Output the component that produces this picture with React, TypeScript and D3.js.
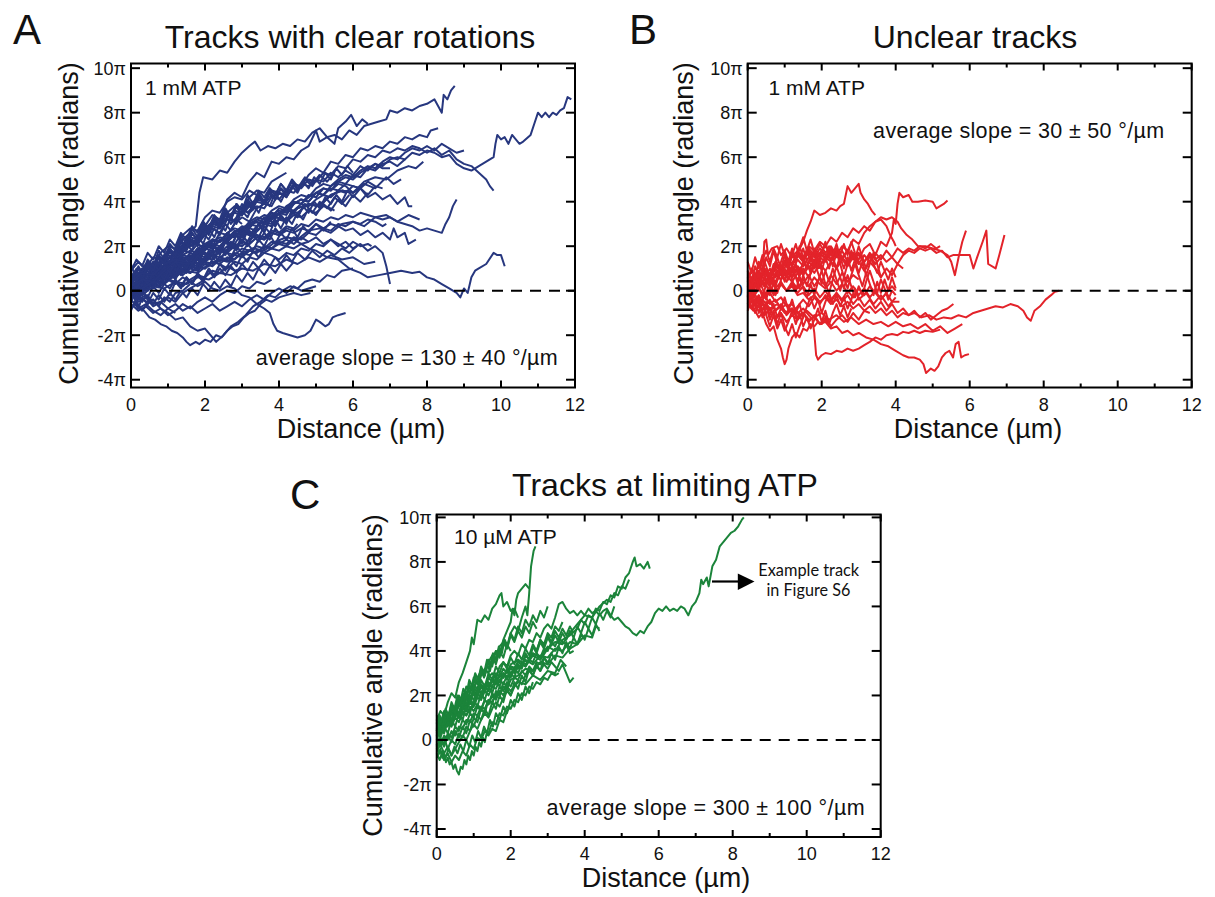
import React from "react";
import * as d3 from "d3";

// ---------- axis values ----------
const xTicks = [0, 2, 4, 6, 8, 10, 12];
const xMinorTicks = [1, 3, 5, 7, 9, 11];
const yTicks = [-4, -2, 0, 2, 4, 6, 8, 10];
const yTickLabels = ["-4π", "-2π", "0", "2π", "4π", "6π", "8π", "10π"];

// ---------- tracks: "distance(µm),angle(π rad)" pairs ----------
const tracksA: string[] = [
  "0,0 .2,.5 .4,.3 .6,.9 .8,.7 1,1.4 1.2,1.8 1.4,2.3 1.6,2.6 1.75,2.9 1.85,4.4 1.95,5.1 2.2,5.0 2.4,5.4 2.6,5.3 2.8,5.8 3.0,6.2 3.2,6.5 3.35,6.7 3.5,6.3 3.7,6.5 3.9,6.4 4.1,6.6 4.3,6.5 4.5,6.8 4.7,6.7 4.9,7.1 5.1,7.3 5.3,6.9 5.5,7.0 5.7,6.8 5.9,7.2 6.1,7.0 6.3,7.4 6.5,7.5 6.7,7.6 6.9,7.7 7.0,8.1 7.2,8.0 7.4,8.2 7.6,8.1 7.8,8.3 8.0,8.4 8.2,8.6 8.3,8.3 8.4,8.0 8.45,8.8 8.55,8.6 8.65,9.0 8.75,9.2",
  "0,0 .2,-.3 .4,.4 .6,.2 .8,1.0 1,1.3 1.2,1.1 1.4,1.9 1.6,2.3 1.8,2.1 2.0,2.9 2.2,3.4 2.4,3.2 2.6,4.1 2.8,4.4 3.0,4.2 3.2,4.9 3.4,5.3 3.6,5.1 3.8,5.8 4.0,5.7 4.2,6.0 4.4,5.9 4.6,6.3 4.8,6.5 5.0,7.2 5.1,6.7 5.3,6.9 5.5,6.6 5.6,7.3 5.8,7.6 5.95,7.9 6.1,7.4 6.25,7.7 6.4,7.5",
  "0,0 .2,.4 .4,.3 .6,.8 .8,.6 1,1.1 1.2,1.0 1.4,1.5 1.6,1.4 1.8,1.9 2.0,2.1 2.2,2.0 2.4,2.6 2.6,2.5 2.8,3.0 3.0,3.3 3.2,3.1 3.4,3.7 3.6,3.9 3.8,3.8 4.0,4.4 4.2,4.3 4.4,4.8 4.6,4.7 4.8,5.2 5.0,5.5 5.2,5.3 5.4,5.8 5.6,5.7 5.8,6.1 6.0,6.0 6.2,6.4 6.4,6.3 6.6,6.5 6.8,6.4 7.0,6.7 7.2,6.6 7.4,6.9 7.6,6.8 7.8,7.0 8.0,6.9 8.1,7.2 8.3,7.3",
  "0,0 .2,.3 .4,.1 .6,.6 .8,.5 1,.9 1.2,.8 1.4,1.2 1.6,1.1 1.8,1.5 2.0,1.7 2.2,1.6 2.4,2.0 2.6,2.2 2.8,2.1 3.0,2.6 3.2,2.5 3.4,2.9 3.6,3.1 3.8,3.0 4.0,3.5 4.2,3.4 4.4,3.9 4.6,4.1 4.8,4.0 5.0,4.4 5.2,4.3 5.4,4.7 5.6,4.9 5.8,4.8 6.0,5.2 6.2,5.1 6.4,5.5 6.6,5.7 6.8,5.6 7.0,5.9 7.2,6.0 7.4,5.9 7.6,6.2 7.8,6.1 8.0,6.3 8.2,6.2 8.4,6.0 8.6,6.1 8.8,5.7 9.0,5.5 9.2,5.4 9.4,5.6 9.6,5.8 9.8,6.0 9.85,6.6 9.9,7.0 10.0,6.8 10.1,6.9 10.2,6.6 10.3,7.0 10.4,6.8 10.5,6.6 10.6,6.7 10.8,7.0 10.9,7.5 11.0,8.0 11.1,7.8 11.2,8.0 11.3,7.8 11.4,8.0 11.5,7.9 11.6,8.1 11.7,8.2 11.8,8.7 11.9,8.6",
  "0,0 .2,.6 .4,.4 .6,1.0 .8,1.3 1,1.2 1.2,1.8 1.4,1.7 1.6,2.2 1.8,2.1 2.0,2.5 2.2,2.8 2.4,2.6 2.6,3.2 2.8,3.1 3.0,3.6 3.2,3.5 3.4,3.8 3.6,3.7 3.8,4.2 4.0,4.4 4.2,4.2 4.4,4.7 4.6,4.6 4.8,5.0 5.0,4.9 5.2,5.3 5.4,5.2 5.6,5.6 5.8,5.5 6.0,5.9 6.2,5.8 6.4,6.1 6.6,6.0 6.8,6.3 7.0,6.2 7.2,6.4 7.4,6.3 7.6,6.5 7.8,6.4 8.0,6.2 8.2,6.4 8.4,6.1 8.6,6.3 8.8,5.9 9.0,5.7 9.2,5.6 9.4,5.3 9.6,5.0 9.7,4.7 9.8,4.5",
  "0,0 .2,.2 .4,.0 .6,.5 .8,.4 1,.8 1.2,.7 1.4,1.0 1.6,1.2 1.8,1.1 2.0,1.5 2.2,1.4 2.4,1.8 2.6,1.7 2.8,2.0 3.0,2.2 3.2,2.1 3.4,2.4 3.6,2.3 3.8,2.6 4.0,2.5 4.2,2.8 4.4,2.7 4.6,3.0 4.8,2.9 5.0,3.2 5.2,3.1 5.4,3.3 5.6,3.2 5.8,3.4 6.0,3.3 6.2,3.5 6.4,3.4 6.6,3.3 6.8,3.2 7.0,3.3 7.2,3.1 7.4,3.0 7.6,2.9 7.8,2.7 8.0,2.8 8.2,2.7 8.4,2.6 8.5,3.0 8.6,3.3 8.7,3.8 8.8,4.1",
  "0,0 .2,.3 .4,.1 .6,.5 .8,.3 1,.7 1.2,.6 1.4,.9 1.6,.8 1.8,1.1 2.0,1.0 2.2,1.3 2.4,1.2 2.6,1.5 2.8,1.4 3.0,1.7 3.2,1.6 3.4,1.8 3.6,1.7 3.8,1.9 4.0,1.8 4.2,2.0 4.4,1.9 4.6,2.1 4.8,1.9 5.0,1.8 5.3,1.5 5.6,1.4 5.9,1.0 6.2,.8 6.4,.6 6.7,.7 7.0,.8 7.3,.9 7.6,.8 7.8,.85 8.0,.6 8.2,.5 8.4,.3 8.6,.1 8.8,-.1 8.9,-.3 9.0,.1 9.1,-.1 9.2,.6 9.3,.9 9.4,1.0 9.6,1.2 9.8,1.7 9.9,1.6 10.0,1.6 10.1,1.1",
  "0,0 .2,.3 .4,.5 .6,.3 .8,.7 1,.5 1.2,.3 1.4,.6 1.6,.4 1.8,.2 2.0,.4 2.2,.1 2.4,.0 2.6,.2 2.8,.1 3.0,-.2 3.2,-.3 3.4,-.6 3.6,-.8 3.75,-1.0 3.85,-1.5 3.95,-1.8 4.1,-1.9 4.3,-2.0 4.5,-2.1 4.7,-2.0 4.85,-1.8 5.0,-1.3 5.1,-1.4 5.25,-1.6 5.35,-1.5 5.45,-1.2 5.6,-1.1 5.8,-1.0",
  "0,0 .1,-.4 .2,-.7 .35,-.9 .5,-1.2 .65,-1.3 .8,-1.5 .95,-1.6 1.1,-1.8 1.25,-1.9 1.4,-2.1 1.5,-2.3 1.6,-2.45 1.75,-2.3 1.85,-2.4 2.0,-2.2 2.15,-2.3 2.3,-2.0 2.45,-2.1 2.6,-1.8 2.75,-1.6 2.9,-1.5 3.05,-1.2 3.2,-1.0 3.35,-.9 3.5,-.6 3.65,-.4 3.8,-.5 4.0,-.3 4.2,-.2 4.4,-.1 4.6,-.2 4.85,-.1",
  "0,0 .2,-.2 .4,-.5 .6,-.4 .8,-.8 1.0,-1.0 1.2,-1.3 1.4,-1.2 1.6,-1.6 1.8,-1.8 2.0,-1.7 2.2,-2.1 2.3,-2.3 2.5,-2.0 2.7,-1.6 2.9,-1.4 3.1,-1.1 3.3,-.7 3.5,-.5 3.7,-.2 3.9,-.3 4.1,0 4.3,.2 4.5,.1 4.7,.4 4.9,.5 5.1,.4 5.3,.7 5.5,.6 5.7,.9 6.0,1.0",
  "0,0 .2,.5 .4,.7 .6,.6 .8,1.1 1,1.0 1.2,1.4 1.4,1.6 1.6,1.5 1.8,1.9 2.0,1.8 2.2,2.2 2.4,2.4 2.6,2.3 2.8,2.7 3.0,2.6 3.2,3.0 3.4,3.2 3.6,3.1 3.8,3.5 4.0,3.4 4.2,3.8 4.4,4.0 4.6,3.9 4.8,4.3 5.0,4.2 5.2,4.6 5.4,4.5 5.6,4.8 5.8,4.7 6.0,4.4 6.2,4.6 6.4,4.2 6.6,4.4 6.8,4.1 7.0,4.3 7.2,3.9 7.4,4.2 7.5,3.8 7.6,3.8",
  "0,0 .2,.4 .4,.2 .6,.7 .8,.6 1,1.0 1.2,.9 1.4,1.3 1.6,1.2 1.8,1.6 2.0,1.5 2.2,1.8 2.4,1.7 2.6,2.0 2.8,1.9 3.0,2.2 3.2,2.1 3.4,2.4 3.6,2.3 3.8,2.6 4.0,2.5 4.2,2.7 4.4,2.6 4.6,2.8 4.8,2.7 5.0,3.0 5.2,2.8 5.4,3.0 5.6,2.9 5.8,2.7 6.0,2.8 6.2,2.5 6.4,2.7 6.6,2.4 6.8,2.6 7.0,2.3 7.1,2.8 7.2,2.4 7.4,2.6 7.5,2.1 7.7,2.3",
  "0,0 .2,.4 .4,.8 .6,.7 .8,1.2 1,1.5 1.2,1.4 1.4,1.9 1.6,2.2 1.8,2.1 2.0,2.6 2.2,2.9 2.4,2.8 2.6,3.3 2.8,3.5 3.0,3.4 3.2,3.8 3.4,4.0 3.6,3.9 3.8,4.3 4.0,4.1 4.2,4.5 4.4,4.4 4.6,4.8 4.8,4.7 5.0,5.0 5.2,4.9 5.4,5.3 5.6,5.1 5.8,5.4 6.0,5.2 6.2,5.6 6.4,5.4 6.6,5.7 6.8,5.5 7.0,5.5",
  "0,0 .2,-.2 .4,.3 .6,.2 .8,.6 1,.9 1.2,.8 1.4,1.3 1.6,1.2 1.8,1.7 2.0,1.9 2.2,1.8 2.4,2.3 2.6,2.2 2.8,2.6 3.0,2.9 3.2,2.8 3.4,3.2 3.6,3.4 3.8,3.3 4.0,3.7 4.2,3.6 4.4,4.0 4.6,3.9 4.8,4.2 5.0,4.4 5.2,4.3 5.4,4.6 5.6,4.5 5.8,4.8 6.0,4.7 6.2,4.6",
  "0,0 .2,.6 .4,.4 .6,.9 .8,.8 1,1.2 1.2,1.1 1.4,1.5 1.6,1.4 1.8,1.8 2.0,2.0 2.2,1.9 2.4,2.3 2.6,2.2 2.8,2.5 3.0,2.4 3.2,2.8 3.4,2.7 3.6,3.0 3.8,2.9 4.0,3.2 4.2,3.1 4.4,3.4 4.6,3.3 4.8,3.6 5.0,3.5 5.2,3.8 5.4,3.7 5.5,3.6",
  "0,0 .2,.2 .4,.5 .6,.4 .8,.7 1,.6 1.2,.9 1.4,.8 1.6,1.1 1.8,1.0 2.0,1.3 2.2,1.2 2.4,1.5 2.6,1.4 2.8,1.7 3.0,1.6 3.2,1.8 3.4,1.7 3.6,2.0 3.8,1.9 4.0,2.1 4.2,2.0 4.4,2.3 4.6,2.1 4.8,2.2",
  "0,0 .2,.5 .4,.9 .6,.8 .8,1.3 1,1.6 1.2,1.5 1.4,2.0 1.6,2.3 1.8,2.2 2.0,2.7 2.2,3.0 2.4,2.9 2.6,3.3 2.8,3.6 3.0,3.5 3.2,3.9 3.4,4.1 3.6,4.0 3.8,4.5 4.0,4.4",
  "0,0 .2,.7 .4,1.2 .6,1.1 .8,1.7 1,2.0 1.2,1.9 1.4,2.5 1.6,2.8 1.8,2.7 2.0,3.3 2.2,3.6 2.4,3.5 2.6,4.0 2.8,4.2 3.0,4.1 3.2,4.5 3.4,4.3 3.5,4.2",
  "0,0 .2,-.3 .4,.1 .6,.3 .8,.2 1,.5 1.2,.4 1.4,.2 1.6,.5 1.8,.7 2.0,.6 2.2,.9 2.4,.8 2.6,1.1 2.8,.9 3.0,1.0",
  "0,0 .2,.3 .4,.2 .6,.5 .8,.4 1,.7 1.2,.6 1.4,.9 1.6,.8 1.8,1.1 2.0,1.0 2.2,1.3 2.4,1.2 2.6,1.0 2.8,1.3 3.0,1.2 3.2,1.5 3.4,1.4 3.6,1.7 3.8,1.6 4.0,1.4 4.2,1.7 4.4,1.6 4.6,1.9 4.8,1.8 5.0,2.1 5.2,2.0 5.4,2.3 5.6,2.1 5.8,1.9 6.0,2.2 6.2,2.0 6.4,2.1 6.5,2.0",
  "0,0 .2,-.4 .4,-.2 .6,-.6 .8,-.5 1,-.8 1.2,-.6 1.4,-.9 1.6,-.7 1.8,-1.0 2.0,-.8 2.2,-.6 2.4,-.9 2.6,-.7 2.8,-.5 3.0,-.7 3.2,-.4 3.4,-.2 3.6,-.4 3.8,-.1 4.0,.1 4.2,-.1 4.4,.2 4.6,.0 4.8,.1 5.0,.2",
  "0,0 .2,.4 .4,.3 .6,.7 .8,.6 1,1.0 1.2,.9 1.4,1.2 1.6,1.1 1.8,1.4 2.0,1.3 2.2,1.6 2.4,1.5 2.6,1.7 2.8,1.6 3.0,1.9 3.2,1.8 3.4,2.0 3.6,1.9 3.8,2.2 4.0,2.1 4.2,2.3 4.4,2.1 4.6,2.4 4.8,2.2 5.0,2.4 5.2,2.1 5.4,2.3 5.6,2.0 5.8,2.2 6.0,1.9 6.2,2.1 6.4,1.8 6.6,2.0 6.8,1.7 6.9,1.1 6.95,.7 7.0,.3",
  "0,0 .2,.5 .4,.4 .6,.9 .8,.8 1,1.1 1.2,1.4 1.4,1.3 1.6,1.7 1.8,1.6 2.0,2.0 2.2,2.3 2.4,2.2 2.6,2.5 2.8,2.4 3.0,2.8 3.2,3.0 3.4,2.9 3.6,3.3 3.8,3.2 4.0,3.5 4.2,3.7 4.4,3.6 4.6,3.9 4.8,3.8 5.0,4.1 5.2,4.3 5.4,4.2 5.6,4.5 5.8,4.4 6.0,4.7 6.2,4.6 6.4,4.9 6.6,4.7 6.8,4.6",
  "0,0 .2,.3 .4,.6 .6,.5 .8,.9 1,.8 1.2,1.1 1.4,1.3 1.6,1.2 1.8,1.5 2.0,1.4 2.2,1.7 2.4,1.9 2.6,1.8 2.8,2.1 3.0,2.0 3.2,2.3 3.4,2.5 3.6,2.4 3.8,2.7 4.0,2.6 4.2,2.9 4.4,2.8 4.5,3.0",
  "0,0 .2,.4 .4,.3 .6,.6 .8,.8 1,.7 1.2,1.0 1.4,.9 1.6,1.2 1.8,1.4 2.0,1.3 2.2,1.6 2.4,1.7 2.5,1.8",
  "0,0 .2,-.5 .4,-.3 .6,-.7 .8,-.5 1,-.3 1.2,-.5 1.4,-.1 1.6,.1 1.8,.3 2.0,.5",
  "0,0 .2,.6 .4,1.0 .6,.9 .8,1.4 1,1.7 1.2,1.6 1.4,2.1 1.6,2.4 1.8,2.3 2.0,2.8 2.2,3.1 2.4,3.0 2.6,3.5 2.8,3.8 3.0,3.7 3.2,4.2 3.4,4.5 3.6,4.4 3.8,4.9 4.0,5.1 4.2,5.3",
  "0,0 .2,.1 .4,.4 .6,.3 .8,.6 1,.5 1.2,.8 1.4,.7 1.6,1.0 1.8,.9 2.0,1.2 2.2,1.1 2.4,1.4 2.6,1.3 2.8,1.6 3.0,1.5 3.2,1.8 3.4,1.7 3.6,2.0 3.8,1.9 4.0,2.2 4.2,2.1 4.4,2.4 4.6,2.3 4.8,2.6 5.0,2.5 5.2,2.8 5.4,2.7 5.6,3.0 5.8,2.9 6.0,3.1 6.2,3.0 6.4,3.2 6.6,3.1 6.8,2.9 6.9,3.0",
  "0,0 .2,.4 .4,.7 .6,.6 .8,1.0 1,1.3 1.2,1.2 1.4,1.6 1.6,1.8 1.8,1.7 2.0,2.1 2.2,2.3 2.4,2.2 2.6,2.6 2.8,2.8 3.0,2.7 3.2,3.1 3.4,3.3 3.6,3.2 3.8,3.6 4.0,3.8 4.2,3.7 4.4,4.1 4.6,4.3 4.8,4.2 5.0,4.6 5.2,4.8 5.4,4.7 5.6,5.0 5.8,5.2 6.0,5.1 6.2,5.4 6.4,5.6 6.6,5.5 6.8,5.8 7.0,6.0 7.2,5.9 7.4,6.2 7.6,6.4 7.8,6.3 8.0,6.5 8.2,6.3 8.4,6.6 8.6,6.4 8.8,6.2 9.0,6.3",
  "0,0 .2,.3 .4,.6 .6,.5 .8,.9 1,1.1 1.2,1.0 1.4,1.4 1.6,1.6 1.8,1.5 2.0,1.9 2.2,2.1 2.4,2.0 2.6,2.4 2.8,2.6 3.0,2.5 3.2,2.9 3.4,3.1 3.6,3.0 3.8,3.4 4.0,3.6 4.2,3.5 4.4,3.9 4.6,4.1 4.8,4.0 5.0,4.4 5.2,4.6 5.4,4.5 5.6,4.9 5.8,5.1 6.0,5.0 6.2,5.3 6.4,5.5 6.6,5.4 6.8,5.7 7.0,5.8 7.2,5.6 7.4,5.9",
  "0,.3 .2,.8 .4,.6 .6,1.1 .8,.9 1.0,1.3 1.2,1.1 1.5,1.2",
  "0,-.4 .2,-.8 .4,-.6 .6,-.9 .8,-1.1 1.0,-.8 1.2,-1.0",
  "0,.5 .2,1.0 .4,.8 .6,1.3 .8,1.2 1,1.6 1.2,1.4 1.4,1.8 1.6,1.7 1.8,2.1 2.0,1.9 2.2,2.3 2.4,2.2 2.6,2.6 2.8,2.4 3.0,2.7 3.2,2.5",
  "0,-.3 .3,.2 .6,.5 .9,1.0 1.2,.9 1.5,1.4 1.8,1.7 2.1,2.0 2.4,2.2 2.7,2.5 3.0,2.8 3.3,3.1 3.6,3.0 3.9,3.4 4.2,3.6 4.5,3.5 4.8,3.9 5.0,3.8 5.2,4.0",
  "0,-.6 .2,-.9 .4,-.7 .6,-1.0 .8,-.8 1.0,-1.1 1.2,-.9 1.4,-.6 1.6,-.8 1.8,-.5 2.0,-.3 2.2,-.5 2.4,-.2 2.6,0 2.8,-.1 3.0,.2 3.2,.1 3.4,.4 3.6,.3 3.8,.5",
  "0,.9 .2,1.3 .4,1.0 .6,1.5 .8,1.4 1.0,1.8 1.2,1.6 1.4,2.1 1.6,2.0 1.8,2.4",
  "0,-.8 .15,-.5 .3,-.9 .45,-.6 .6,-.4 .75,-.7 .9,-.3 1.05,-.5 1.2,-.1 1.4,0 1.6,.3",
  "0,.2 .15,.7 .3,.4 .45,1.1 .6,.8 .75,.9 .9,1.5 1.05,1.2 1.2,1.9 1.35,1.6 1.5,2.4 1.65,2.0 1.8,2.3 1.95,2.9 2.1,2.5 2.25,3.1 2.4,2.8 2.55,3.4 2.7,3.0 2.85,3.3 3.0,3.9 3.15,3.5 3.3,3.8 3.45,4.3 3.6,3.9 3.75,4.5 3.9,4.1 4.05,4.6 4.2,4.4 4.35,4.9 4.5,4.5 4.7,5.0 4.9,4.7 5.1,5.2",
  "0,-.5 .15,.1 .3,-.2 .45,.4 .6,.2 .75,.8 .9,.3 1.05,.9 1.2,.7 1.35,1.2 1.5,.9 1.65,1.5 1.8,1.1 1.95,1.7 2.1,1.4 2.25,2.0 2.4,1.6 2.55,2.2 2.7,1.9 2.85,2.5 3.0,2.1 3.15,2.7 3.3,2.4 3.45,3.0 3.6,2.6 3.75,3.2 3.9,2.9 4.05,3.4 4.2,3.0 4.35,3.6 4.5,3.3 4.7,3.9 4.9,3.5 5.1,4.0 5.3,3.7 5.5,4.2 5.7,3.9 5.9,4.3",
  "0,.8 .15,.4 .3,1.0 .45,.7 .6,1.3 .75,.9 .9,1.6 1.05,1.2 1.2,1.8 1.35,1.5 1.5,2.1 1.65,1.8 1.8,2.5 1.95,2.1 2.1,2.8 2.25,2.4 2.4,3.0 2.55,2.7 2.7,3.3 2.85,3.0 3.0,3.6 3.15,3.3 3.3,3.9 3.45,3.5 3.6,4.1 3.75,3.8 3.9,4.4 4.05,4.0 4.2,4.5",
  "0,.1 .15,-.3 .3,.3 .45,0 .6,.5 .75,.2 .9,.7 1.05,.5 1.2,1.0 1.35,.7 1.5,1.2 1.65,1.0 1.8,1.5 1.95,1.2 2.1,1.7 2.25,1.4 2.4,2.0 2.55,1.7 2.7,2.2 2.85,1.9 3.0,2.5 3.15,2.2 3.3,2.7 3.45,2.4 3.6,2.9 3.75,2.6 3.9,3.2 4.05,2.8 4.2,3.3 4.35,3.0 4.5,3.5 4.65,3.2 4.8,3.7 5.0,3.4 5.2,3.9 5.4,3.6 5.6,4.1 5.8,3.8 6.0,4.3 6.2,4.0 6.4,4.4",
  "0,.4 .15,.9 .3,.6 .45,1.3 .6,1.0 .75,1.6 .9,1.3 1.05,1.9 1.2,1.5 1.35,2.2 1.5,1.9 1.65,2.6 1.8,2.2 1.95,2.9 2.1,2.6 2.25,3.2 2.4,2.9 2.55,3.5 2.7,3.2 2.85,3.8 3.0,3.4 3.15,4.0 3.3,3.7 3.45,4.2 3.6,3.9 3.75,4.4 3.9,4.1 4.05,4.6 4.2,4.2 4.35,4.7 4.5,4.4 4.65,4.9 4.8,4.6 4.95,5.1 5.1,4.8 5.25,5.3 5.4,5.0 5.55,5.5 5.7,5.2 5.85,5.6 6.0,5.3",
  "0,-.2 .15,.2 .3,-.1 .45,.3 .6,.1 .75,.6 .9,.3 1.05,.8 1.2,.5 1.35,1.0 1.5,.8 1.65,1.2 1.8,.9 1.95,1.4 2.1,1.1 2.25,1.6 2.4,1.3 2.55,1.8 2.7,1.5 2.85,2.0 3.0,1.7 3.15,2.1 3.3,1.8 3.45,2.3 3.6,2.0 3.75,2.5 3.9,2.1 4.05,2.6 4.2,2.3 4.35,2.8 4.5,2.4 4.65,2.9 4.8,2.6 5.0,3.0 5.2,2.7 5.4,3.1",
  "0,1.2 .1,.7 .2,1.1 .3,.8 .45,1.3 .6,1.0 .75,1.5 .9,1.3 1.05,1.8 1.2,1.5 1.35,2.0 1.5,1.8 1.65,2.3 1.8,2.0 1.95,2.6 2.1,2.3 2.25,2.8 2.4,2.5 2.55,3.0 2.7,2.7 2.85,3.2 3.0,3.0",
  "0,-.9 .1,-.5 .2,-.8 .3,-.3 .45,-.6 .6,-.1 .75,-.4 .9,.1 1.05,-.2 1.2,.4 1.35,.1 1.5,.6 1.65,.3 1.8,.8 1.95,.5 2.1,1.0 2.25,.7 2.4,1.2 2.55,.9 2.7,1.4 2.85,1.1 3.0,1.6 3.15,1.3 3.3,1.8 3.45,1.5 3.6,1.9",
  "0,.6 .15,1.0 .3,.8 .45,1.4 .6,1.1 .75,1.8 .9,1.4 1.05,2.1 1.2,1.8 1.35,2.5 1.5,2.1 1.65,2.8 1.8,2.4 1.95,3.1 2.1,2.7 2.25,3.3 2.4,2.9 2.55,3.6 2.7,3.2 2.85,3.8 3.0,3.4 3.15,3.9 3.3,3.6",
  "0,0 .15,-.4 .3,.0 .45,-.3 .6,.2 .75,-.1 .9,.3 1.05,.1 1.2,.5 1.35,.2 1.5,.6 1.65,.3 1.8,.7 1.95,.4 2.1,.9 2.25,.6 2.4,1.0 2.55,.7 2.7,1.1 2.85,.8 3.0,1.2 3.15,.9 3.3,1.3 3.45,1.0 3.6,1.4 3.75,1.1 3.9,1.5 4.05,1.2 4.2,1.6 4.35,1.3 4.5,1.7 4.7,1.4 4.9,1.8 5.1,1.5 5.3,1.8 5.5,1.6 5.7,1.9 5.9,1.7 6.1,2.0",
  "0,.3 .15,.8 .3,.5 .45,1.2 .6,.9 .75,1.5 .9,1.2 1.05,1.9 1.2,1.6 1.35,2.3 1.5,1.9 1.65,2.6 1.8,2.3 1.95,3.0 2.1,2.6 2.25,3.3 2.4,3.0 2.55,3.7 2.7,3.3 2.85,3.9 3.0,3.6 3.15,4.3 3.3,3.9 3.45,4.5 3.6,4.2 3.75,4.6 3.9,4.3 4.05,4.8 4.2,4.5 4.35,4.9 4.5,4.6 4.7,5.1 4.9,4.8 5.1,5.2 5.3,4.9 5.5,5.3",
  "0,-.1 .15,.3 .3,.0 .45,.5 .6,.3 .75,.8 .9,.5 1.05,1.0 1.2,.7 1.35,1.3 1.5,1.0 1.65,1.5 1.8,1.2 1.95,1.8 2.1,1.5 2.25,2.0 2.4,1.7 2.55,2.3 2.7,2.0 2.85,2.5 3.0,2.2 3.15,2.8 3.3,2.5 3.45,3.0 3.6,2.7 3.75,3.2 3.9,2.9 4.05,3.4 4.2,3.1 4.35,3.6 4.5,3.3 4.65,3.8 4.8,3.5 4.95,4.0 5.1,3.7 5.25,4.2 5.4,3.9 5.55,4.3 5.7,4.0 5.85,4.5 6.0,4.2 6.2,4.6 6.4,4.3 6.6,4.7",
  "0,.5 .15,.1 .3,.6 .45,.3 .6,.8 .75,.6 .9,1.1 1.05,.8 1.2,1.3 1.35,1.0 1.5,1.5 1.65,1.2 1.8,1.6 1.95,1.3 2.1,1.8 2.25,1.5 2.4,1.9 2.55,1.6 2.7,2.1 2.85,1.8 3.0,2.3 3.15,2.0 3.3,2.5 3.45,2.2 3.6,2.6 3.75,2.3 3.9,2.8 4.05,2.5 4.2,2.9",
  "0,-.4 .15,-.1 .3,-.5 .45,-.2 .6,-.6 .75,-.2 .9,-.5 1.05,-.1 1.2,-.4 1.35,0 1.5,-.3 1.65,.1 1.8,-.2 1.95,.3 2.1,0 2.25,.4 2.4,.1 2.55,.5 2.7,.2 2.85,.7 3.0,.4 3.15,.8 3.3,.5 3.45,1.0 3.6,.7 3.75,1.1 3.9,.8 4.05,1.2 4.2,.9 4.4,1.3",
  "0,.9 .15,1.4 .3,1.1 .45,1.7 .6,1.4 .75,2.0 .9,1.7 1.05,2.3 1.2,2.0 1.35,2.6 1.5,2.3 1.65,2.9 1.8,2.6 1.95,3.1 2.1,2.8 2.25,3.4 2.4,3.1 2.55,3.6 2.7,3.3 2.85,3.9 3.0,3.6 3.15,4.1 3.3,3.8 3.45,4.4 3.6,4.0 3.75,4.6 3.9,4.3 4.05,4.8 4.2,4.5 4.35,5.0 4.5,4.7",
  "0,.2 .3,.5 .6,.4 .9,.9 1.2,1.3 1.5,1.2 1.8,1.7 2.1,2.0 2.4,1.9 2.7,2.4 3.0,2.6 3.3,2.5 3.6,3.0 3.9,3.3 4.2,3.2 4.5,3.7 4.8,3.9 5.1,3.8 5.4,4.3 5.7,4.5 6.0,4.4 6.3,4.8 6.6,4.6 6.9,5.1 7.1,4.8 7.3,5.0",
  "0,-.2 .3,.1 .6,.4 .9,.3 1.2,.7 1.5,.9 1.8,.8 2.1,1.2 2.4,1.4 2.7,1.3 3.0,1.7 3.3,1.9 3.6,1.8 3.9,2.2 4.2,2.4 4.5,2.3 4.8,2.7 5.1,2.8 5.4,2.6 5.7,3.0 6.0,3.1 6.3,2.9 6.6,3.3 6.9,3.4 7.2,3.1 7.5,3.4 7.8,3.2",
  "0,.1 .3,-.2 .6,.2 .9,.1 1.2,.4 1.5,.3 1.8,.6 2.1,.5 2.4,.8 2.7,.7 3.0,1.0 3.3,.9 3.6,1.2 3.9,1.1 4.2,1.4 4.5,1.2 4.8,1.5 5.1,1.3 5.4,1.6 5.7,1.4 6.0,1.5 6.3,1.2 6.6,1.3",
  "0,.4 .3,.8 .6,.7 .9,1.2 1.2,1.4 1.5,1.3 1.8,1.8 2.1,2.0 2.4,1.9 2.7,2.4 3.0,2.6 3.3,2.5 3.6,3.0 3.9,3.3 4.2,3.2 4.5,3.7 4.8,3.9 5.1,3.8 5.4,4.3 5.7,4.5 6.0,4.4 6.3,4.9 6.6,5.1 6.9,5.0 7.2,5.4 7.5,5.6 7.7,5.5 7.9,5.8",
];

const tracksB: string[] = [
  "0,.2 .15,.6 .3,.3 .45,.9 .6,.5 .75,1.0 .9,.7 1.05,1.2 1.2,.9 1.35,1.4 1.5,1.1 1.65,1.5 1.8,1.2 1.95,1.7 2.1,1.4 2.25,1.9 2.4,1.5 2.55,1.8 2.7,1.3 2.85,1.7 3.0,1.4 3.15,1.9 3.3,2.1 3.45,1.6 3.6,2.2 3.75,2.0 3.9,2.6 3.95,3.2 4.0,3.0 4.05,3.9 4.1,4.4 4.2,4.2 4.35,4.3 4.45,4.0 4.6,4.0 4.8,4.05 5.0,4.0 5.1,3.7 5.2,3.8 5.3,3.9 5.4,4.05",
  "0,.4 .15,.1 .3,.6 .45,.3 .6,.8 .75,1.1 .9,.9 1.05,1.4 1.2,1.2 1.35,1.7 1.5,2.2 1.6,2.7 1.7,3.1 1.8,3.6 1.95,3.4 2.1,3.5 2.25,3.7 2.4,3.6 2.5,3.8 2.6,3.9 2.7,4.7 2.8,4.4 2.9,4.6 3.0,4.8 3.05,4.4 3.15,4.1 3.25,3.9 3.35,3.6 3.45,3.4",
  "0,-.2 .15,.3 .3,.1 .45,.5 .6,.2 .75,.7 .9,.5 1.05,.9 1.2,.6 1.35,1.1 1.5,.8 1.65,1.3 1.8,1.0 1.95,1.5 2.1,1.3 2.25,1.8 2.4,1.6 2.55,2.0 2.7,1.8 2.85,2.3 3.0,2.1 3.15,2.6 3.3,2.9 3.45,3.1 3.6,3.3 3.75,3.2 3.9,3.3 4.05,3.1 4.15,2.8 4.3,2.5 4.45,2.3 4.6,2.0 4.8,2.0 5.0,1.9 5.2,1.8 5.4,1.6 5.5,1.3 5.6,.7 5.7,1.5 5.8,2.2 5.9,2.7",
  "0,.3 .15,.0 .3,.5 .45,.2 .6,.7 .75,.4 .9,.9 1.05,.6 1.2,1.1 1.35,.8 1.5,1.2 1.65,1.0 1.8,1.4 1.95,1.1 2.1,1.5 2.25,1.3 2.4,1.7 2.55,1.4 2.7,1.8 2.85,1.5 3.0,1.6 3.15,1.3 3.3,1.7 3.45,1.4 3.6,1.6 3.75,1.3 3.9,1.5 4.05,1.2 4.2,1.6 4.35,1.8 4.5,1.7 4.65,1.9 4.8,1.8 4.95,1.9 5.1,1.7 5.25,1.8 5.4,1.5 5.55,1.6 5.8,1.6 6.0,1.6 6.1,1.0 6.2,1.5 6.35,2.2 6.45,2.7 6.5,1.2 6.7,1.0 6.8,1.6 6.94,2.5",
  "0,-.2 .15,-.5 .3,-.3 .45,-.7 .6,-.5 .75,-.9 .9,-.7 1.05,-1.0 1.2,-.8 1.35,-1.2 1.5,-1.0 1.65,-1.3 1.8,-1.2 1.95,-1.5 2.1,-1.4 2.25,-1.7 2.4,-1.6 2.55,-1.9 2.7,-1.8 2.85,-2.0 3.0,-1.9 3.2,-2.1 3.4,-2.2 3.6,-2.4 3.8,-2.5 4.0,-2.7 4.2,-2.9 4.35,-3.0 4.5,-3.0 4.65,-3.1 4.75,-3.3 4.82,-3.7 4.95,-3.5 5.05,-3.6 5.15,-3.4 5.25,-3.0 5.35,-2.8 5.45,-2.7 5.55,-3.0 5.62,-2.4 5.7,-2.3 5.77,-3.0 5.87,-2.9 5.98,-2.85",
  "0,-.3 .1,-.7 .2,-.9 .3,-1.2 .4,-1.0 .5,-1.5 .6,-1.8 .7,-1.6 .8,-2.2 .9,-2.6 .95,-3.0 1.0,-3.3 1.05,-3.1 1.1,-2.6 1.2,-2.1 1.3,-1.9 1.4,-2.1 1.5,-1.7 1.6,-1.8 1.7,-1.5 1.8,-1.6 1.9,-1.4 2.0,-1.5 2.1,-1.3 2.2,-1.5",
  "0,.1 .15,-.2 .3,.1 .45,-.3 .6,-.1 .75,-.5 .9,-.3 1.05,-.7 1.2,-.6 1.35,-1.0 1.5,-.8 1.65,-1.1 1.75,-1.3 1.8,-1.9 1.85,-2.9 1.9,-3.1 2.0,-2.9 2.1,-2.8 2.25,-2.85 2.4,-2.7 2.55,-2.75 2.7,-2.6 2.85,-2.7 3.0,-2.6 3.15,-2.45 3.3,-2.3 3.45,-2.1 3.6,-2.2 3.75,-2.0 3.9,-1.95 4.05,-2.0 4.2,-1.85 4.35,-1.9 4.5,-1.8 4.65,-1.9 4.8,-1.8 5.0,-1.85 5.2,-1.75",
  "0,0 .15,-.3 .3,.1 .45,-.2 .6,.2 .75,-.1 .9,.3 1.05,0 1.2,.2 1.35,-.2 1.5,-.1 1.65,-.4 1.8,-.2 1.95,-.5 2.1,-.3 2.25,-.6 2.4,-.4 2.55,-.7 2.7,-.5 2.85,-.8 3.0,-.6 3.15,-.9 3.3,-.7 3.45,-1.0 3.6,-.8 3.75,-1.1 3.9,-.9 4.05,-1.2 4.2,-1.0 4.35,-1.1 4.5,-1.0 4.7,-1.2 4.9,-1.1 5.1,-1.3 5.3,-1.2 5.5,-1.25 5.7,-1.1 5.9,-1.2 6.1,-1.0 6.3,-.9 6.5,-.8 6.7,-.7 6.9,-.75 7.1,-.6 7.3,-.7 7.45,-.9 7.55,-1.2 7.65,-1.35 7.75,-.9 7.9,-.7 8.05,-.4 8.2,-.2 8.3,-.05 8.42,0",
  "0,.5 .15,.2 .3,.6 .45,.3 .6,.5 .75,.1 .9,.4 1.05,0 1.2,.3 1.35,-.1 1.5,.2 1.65,-.2 1.8,.1 1.95,-.3 2.1,0 2.25,-.4 2.4,-.1 2.55,-.5 2.7,-.2 2.85,-.6 3.0,-.3 3.15,-.7 3.3,-.4 3.45,-.8 3.6,-.5 3.75,-.9 3.9,-.6 4.05,-1.0 4.2,-.8 4.35,-1.1 4.5,-.9 4.65,-1.2 4.8,-1.0 4.95,-1.3 5.1,-1.1 5.25,-.9 5.4,-.8 5.56,-.6",
  "0,-.5 .15,-.2 .3,-.6 .45,-.3 .6,.1 .75,-.2 .9,.3 1.05,0 1.2,.4 1.35,.1 1.5,.5 1.65,.2 1.8,.6 1.95,.3 2.1,.1 2.25,.4 2.4,0 2.55,.3 2.7,-.1 2.85,.2 3.0,-.2 3.15,.1 3.3,-.3 3.45,0 3.6,-.4 3.75,-.1 3.9,.2 4.0,0",
  "0,.6 .15,.9 .3,.5 .45,1.0 .6,.7 .75,1.2 .9,.9 1.05,1.4 1.2,1.1 1.35,1.6 1.5,1.3 1.65,1.8 1.8,1.5 1.95,1.9 2.1,1.6 2.25,1.4 2.4,1.8 2.55,1.5 2.7,1.2 2.85,1.6 3.0,1.3 3.15,.9 3.3,1.3 3.45,1.0 3.6,.6 3.75,1.0 3.9,.7 4.05,1.2 4.2,1.0",
  "0,-.1 .15,.4 .3,.2 .4,.7 .45,2.2 .5,2.3 .55,1.6 .65,1.9 .8,2.0 .9,1.6 1.05,1.9 1.2,1.5 1.35,1.8 1.5,1.4 1.65,1.7 1.8,1.3 1.95,1.7 2.1,2.0 2.25,1.6 2.4,1.9 2.55,1.5 2.7,1.8 2.85,1.4 3.0,1.7 3.15,1.3 3.3,1.6 3.45,1.2 3.6,1.5",
  "0,.2 .15,-.1 .3,-.4 .45,-.2 .6,-.6 .75,-.4 .9,-.8 1.05,-.6 1.2,-1.0 1.35,-.7 1.5,-.4 1.65,-.7 1.8,-.3 1.95,-.6 2.1,-.2 2.25,-.5 2.4,-.1 2.55,-.4 2.7,0 2.85,-.3 3.0,.1 3.15,-.2 3.3,.2 3.45,-.1 3.6,-.4 3.75,-.1 3.9,-.5 4.1,-.5",
  "0,.8 .15,.4 .3,.9 .45,.5 .6,1.0 .75,.6 .9,1.1 1.05,.7 1.2,.4 1.35,.8 1.5,.3 1.65,.7 1.8,.2 1.95,.6 2.1,.2 2.25,.7 2.4,.3 2.55,.8 2.7,.4 2.85,.7 3.0,.5",
  "0,.3 .15,.7 .3,.4 .45,1.0 .6,.7 .75,1.3 .9,1.0 1.05,1.5 1.2,1.2 1.35,1.7 1.5,1.4 1.65,1.9 1.8,1.6 1.95,2.1 2.1,1.7 2.25,2.0 2.4,1.6 2.5,1.8",
  "0,-.1 .15,-.5 .3,-.2 .45,-.7 .6,-.4 .75,-.9 .9,-.6 1.05,-1.1 1.2,-.8 1.35,-1.3 1.5,-1.0 1.65,-1.4 1.8,-1.1 1.95,-1.5 2.1,-1.2 2.25,-1.6 2.4,-1.3 2.55,-1.1 2.7,-1.4 2.85,-1.0 3.0,-1.3 3.15,-.9 3.3,-1.0",
  "0,0 .15,.4 .3,.1 .45,.6 .6,.3 .75,.8 .9,.5 1.05,.9 1.2,.6 1.35,1.0 1.5,.7 1.65,1.1 1.8,.8 1.95,1.2 2.1,.9 2.25,1.3 2.4,1.0 2.55,1.4 2.7,1.1 2.85,1.5 3.0,1.2 3.15,1.6 3.3,1.3 3.45,1.7 3.6,1.4 3.75,1.8 3.9,1.5 4.05,1.9 4.2,1.7 4.35,1.9 4.5,1.8 4.65,2.0 4.8,1.9 4.95,2.1 5.1,1.9 5.2,2.0",
  "0,.1 .15,.5 .3,.3 .45,.8 .6,.6 .75,1.1 .9,.9 1.05,1.4 1.2,1.2 1.35,1.7 1.5,1.5 1.65,2.0 1.8,1.8 1.95,2.2 2.1,2.0 2.25,2.4 2.4,2.2 2.55,2.6 2.7,2.4 2.85,2.8 3.0,2.6 3.15,2.9 3.3,2.7 3.45,3.1 3.6,3.2 3.75,2.9 3.85,2.5 3.95,2.2 4.0,2.0",
  "0,-.6 .15,-.9 .3,-.6 .45,-1.1 .6,-.8 .75,-1.3 .9,-1.0 1.05,-1.4 1.2,-1.1 1.35,-1.3 1.5,-1.0",
  "0,.5 .15,.1 .3,.6 .45,.2 .6,.7 .75,.3 .9,.8 1.05,.4 1.2,.9 1.35,.5 1.5,1.0 1.65,.6 1.8,1.1 2.0,1.0",
  "0,-.2 .2,-.6 .4,-.4 .6,-.8 .8,-.6 1.0,-1.0 1.2,-.8 1.4,-1.1 1.6,-.9 1.8,-1.2 2.0,-1.0 2.2,-1.3 2.4,-1.1 2.6,-1.4 2.8,-1.2 3.0,-1.5 3.2,-1.3 3.4,-1.5 3.6,-1.4 3.8,-1.6 4.0,-1.4 4.2,-1.6 4.4,-1.5 4.6,-1.7 4.8,-1.5 5.0,-1.8 5.2,-1.6 5.4,-1.9 5.6,-1.7 5.8,-1.5",
  "0,.4 .1,1.0 .2,.6 .3,1.3 .4,.8 .5,1.5 .6,1.1 .7,1.8 .8,1.2 .9,.7 1.0,1.3 1.1,.9 1.2,1.6 1.3,2.1 1.4,1.5 1.5,1.9 1.6,1.3 1.7,.8 1.8,1.4 1.9,1.0 2.0,1.7 2.1,2.2 2.2,1.6 2.3,1.1 2.4,1.7 2.5,1.2 2.6,.6 2.7,1.2 2.8,1.8 2.9,1.4 3.0,2.0 3.1,1.5 3.2,1.0 3.3,1.6 3.4,1.2 3.5,.8 3.6,1.3 3.7,.9 3.8,.5 3.9,1.0 4.0,.6",
  "0,-.3 .1,.3 .2,-.1 .3,.5 .4,.1 .5,-.4 .6,.2 .7,-.2 .8,.5 .9,.9 1.0,.4 1.1,1.0 1.2,.5 1.3,0 1.4,.6 1.5,.1 1.6,-.3 1.7,.3 1.8,-.2 1.9,.4 2.0,.9 2.1,.3 2.2,-.1 2.3,.5 2.4,1.1 2.5,.6 2.6,.1 2.7,.7 2.8,.2 2.9,-.3 3.0,.2 3.1,-.2 3.2,.4 3.3,.9 3.4,.4 3.5,-.1 3.6,.5 3.7,.1 3.8,-.4 3.9,0 4.0,-.2",
  "0,.9 .1,.4 .2,1.1 .3,.7 .4,1.4 .5,1.8 .6,1.3 .7,1.9 .8,1.5 .9,2.1 1.0,1.6 1.1,1.1 1.2,1.7 1.3,1.3 1.4,1.9 1.5,2.4 1.6,1.8 1.7,2.3 1.8,1.7 1.9,1.2 2.0,1.8 2.1,1.4 2.2,2.0 2.3,1.5 2.4,1.0 2.5,1.6 2.6,2.1 2.7,1.6 2.8,2.2 2.9,1.7 3.0,1.3",
  "0,-.6 .1,-.1 .2,-.7 .3,-.3 .4,-.9 .5,-.5 .6,-1.1 .7,-.6 .8,-1.2 .9,-.8 1.0,-.3 1.1,-.9 1.2,-.4 1.3,-1.0 1.4,-.6 1.5,-1.2 1.6,-.7 1.7,-.3 1.8,-.8 1.9,-.4 2.0,-1.0 2.1,-.5 2.2,-.1 2.3,-.6 2.4,-.2 2.5,-.7 2.6,-.3 2.7,-.8 2.8,-.4 2.9,.1 3.0,-.4 3.2,-.1 3.4,-.6 3.6,-.2 3.8,-.7 4.0,-.3",
  "0,.2 .1,-.3 .2,.3 .3,.8 .4,.3 .5,.9 .6,.4 .7,1.0 .8,1.5 .9,1.0 1.0,1.6 1.1,1.1 1.2,.6 1.3,1.2 1.4,.7 1.5,1.3 1.6,1.8 1.7,1.3 1.8,1.9 1.9,1.4 2.0,.9 2.1,1.5 2.2,1.0 2.3,1.6 2.4,2.1 2.5,1.5 2.6,1.0 2.7,1.5 2.8,.9 2.9,1.4 3.0,.8 3.1,1.3 3.2,.7 3.3,1.2 3.4,1.7 3.5,1.2 3.6,.6",
  "0,-.2 .1,-.8 .2,-.4 .3,-1.0 .4,-.5 .5,-1.1 .6,-1.6 .7,-1.1 .8,-1.7 .9,-1.3 1.0,-1.8 1.1,-1.4 1.2,-.9 1.3,-1.5 1.4,-1.0 1.5,-1.6 1.6,-1.2 1.7,-1.7 1.8,-1.3 1.9,-.8 2.0,-1.4 2.1,-.9 2.2,-1.5 2.3,-1.0 2.4,-.6 2.5,-1.1 2.6,-.7 2.7,-1.2 2.8,-.8",
  "0,.6 .1,.1 .2,.7 .3,.2 .4,-.3 .5,.3 .6,-.2 .7,.4 .8,-.1 .9,.5 1.0,1.0 1.1,.5 1.2,1.1 1.3,.6 1.4,.1 1.5,.7 1.6,.2 1.7,.8 1.8,1.3 1.9,.8 2.0,.3 2.1,.9 2.2,.4 2.3,1.0 2.4,.5 2.5,0 2.6,.6 2.7,.1 2.8,.7 2.9,1.2 3.0,.7 3.1,.2 3.2,.8 3.3,.3 3.4,-.2 3.5,.4 3.6,-.1 3.7,.5 3.8,.0 3.9,.6 4.0,.1",
  "0,1.3 .1,.8 .2,1.5 .3,1.0 .4,1.6 .5,1.1 .6,.6 .7,1.2 .8,.7 .9,1.3 1.0,1.8 1.1,1.3 1.2,1.9 1.3,1.4 1.4,2.0 1.5,1.5 1.6,1.0 1.7,1.6 1.8,1.1 1.9,1.7 2.0,1.2",
  "0,-.9 .1,-.4 .2,-1.0 .3,-.6 .4,-1.2 .5,-.7 .6,-1.3 .7,-.9 .8,-1.5 .9,-1.0 1.0,-1.6 1.1,-2.0 1.2,-1.5 1.3,-2.1 1.4,-1.6 1.5,-1.2",
];

const tracksC: string[] = [
  "0,.3 .1,.7 .2,.4 .3,1.0 .4,.8 .5,1.3 .6,1.1 .7,1.6 .8,1.4 .9,1.9 1.0,2.2 1.1,2.0 1.2,2.5 1.3,2.3 1.4,2.8 1.5,3.0 1.6,2.8 1.7,3.3 1.8,3.5 1.9,3.3 2.0,3.8 2.1,4.0 2.2,3.8 2.3,4.3 2.4,4.1 2.5,4.5 2.6,4.4 2.7,4.8 2.8,4.6 2.9,5.0 3.0,5.2 3.1,5.0 3.2,5.5 3.3,6.1 3.4,6.2 3.5,5.9 3.6,5.7 3.7,5.8 3.8,5.6 3.9,5.8 4.0,5.6 4.1,5.9 4.2,5.7 4.3,5.8 4.4,5.6 4.5,5.8 4.6,5.9 4.7,5.6 4.8,5.4 4.9,5.5 5.0,5.3 5.1,5.1 5.2,5.0 5.3,4.8 5.4,4.7 5.5,4.9 5.6,4.8 5.7,5.1 5.8,5.3 5.9,5.7 6.0,5.9 6.1,5.8 6.2,6.0 6.3,5.8 6.4,5.9 6.5,5.8 6.6,6.0 6.7,5.9 6.8,5.6 6.9,6.0 7.0,6.2 7.1,6.6 7.15,7.2 7.2,7.0 7.3,7.3 7.35,6.9 7.45,7.8 7.55,8.1 7.65,8.7 7.75,8.9 7.85,9.1 7.95,9.3 8.05,9.4 8.15,9.6 8.25,9.9 8.3,10.0",
  "0,.5 .1,.2 .2,.8 .3,.6 .4,1.2 .5,1.0 .6,1.6 .7,1.4 .8,2.0 .9,2.4 1.0,2.2 1.1,2.8 1.2,3.1 1.3,2.9 1.4,3.5 1.5,3.8 1.6,3.6 1.7,4.2 1.8,4.4 1.9,4.2 2.0,4.8 2.1,5.1 2.2,4.9 2.3,5.5 2.4,6.0 2.45,5.6 2.5,6.6 2.55,7.8 2.58,8.1 2.62,8.5 2.67,8.7",
  "0,.8 .1,.4 .2,1.0 .3,.7 .4,1.3 .5,1.1 .6,1.6 .7,1.4 .8,1.9 .9,1.7 1.0,2.2 1.1,2.0 1.2,2.5 1.3,2.3 1.4,2.8 1.5,2.6 1.6,3.0 1.7,2.8 1.8,3.2 1.9,3.0 2.0,3.4 2.2,3.6 2.4,3.4 2.6,3.9 2.8,3.7 3.0,4.2 3.2,4.0 3.4,4.5 3.6,4.7 3.8,5.0 3.9,5.4 4.0,5.2 4.1,5.6 4.2,5.5 4.3,5.9 4.4,5.8 4.5,6.2 4.6,6.1 4.7,6.5 4.8,6.4 4.9,6.9 5.0,6.8 5.1,7.3 5.2,7.5 5.3,8.0 5.35,8.2 5.4,7.8 5.5,7.9 5.6,7.7 5.7,8.0 5.76,7.7",
  "0,0 .1,.5 .2,.3 .3,.9 .4,.7 .5,1.2 .6,1.0 .7,1.5 .8,1.3 .9,1.8 1.0,1.6 1.1,2.1 1.2,1.9 1.3,2.4 1.4,2.2 1.5,2.7 1.6,2.5 1.7,3.0 1.8,2.8 1.9,3.2 2.0,3.0 2.2,3.5 2.4,3.3 2.6,3.8 2.8,3.6 3.0,4.1 3.2,4.4 3.4,4.3 3.6,4.8 3.8,5.2 4.0,5.6 4.2,5.5 4.4,6.0 4.6,6.3 4.7,6.2 4.8,6.6 4.9,6.5 5.0,6.9 5.1,6.8 5.2,7.2",
  "0,.2 .1,.6 .2,.4 .3,.9 .4,.7 .5,1.2 .6,1.0 .7,1.4 .8,1.3 .9,1.7 1.0,1.5 1.1,1.9 1.2,1.8 1.3,2.2 1.4,2.0 1.5,2.4 1.6,2.3 1.7,2.7 1.8,2.5 1.9,2.9 2.0,2.8 2.1,3.2 2.2,3.0 2.3,3.4 2.4,3.3 2.5,3.6 2.6,3.5 2.7,3.9 2.8,3.7 2.9,4.1 3.0,4.0 3.1,4.4 3.2,4.2 3.3,4.6 3.4,4.4 3.5,4.3 3.6,3.9 3.7,4.0",
  "0,-.5 .1,-.2 .2,-.6 .3,-.3 .4,-.7 .5,-.4 .6,-.1 .7,.2 .8,.0 .9,.4 1.0,.7 1.1,.5 1.2,.9 1.3,1.2 1.4,1.0 1.5,1.4 1.6,1.7 1.7,1.5 1.8,1.9 1.9,2.2 2.0,2.0 2.1,2.4 2.2,2.7 2.3,2.5 2.4,2.9 2.5,3.1 2.6,2.9 2.7,3.3 2.8,3.1 2.9,3.4 3.0,3.2 3.1,3.5 3.2,3.3 3.3,3.1 3.4,3.4 3.5,3.0 3.6,2.6 3.7,2.8",
  "0,.6 .1,.3 .2,.8 .3,1.1 .4,.9 .5,1.4 .6,1.2 .7,1.7 .8,1.5 .9,2.0 1.0,1.8 1.1,2.3 1.2,2.1 1.3,2.5 1.4,2.4 1.5,2.7 1.6,2.6 1.7,2.9 1.8,2.8 1.9,3.1 2.0,3.3 2.2,3.2 2.4,3.6 2.6,3.4 2.8,3.8 3.0,3.7 3.2,4.1 3.4,4.0 3.6,4.4 3.8,4.3 4.0,4.7 4.2,4.6 4.3,5.1 4.4,5.0",
  "0,-.3 .1,.1 .2,-.2 .3,.3 .4,.1 .5,.6 .6,.4 .7,.9 .8,.7 .9,1.2 1.0,1.0 1.1,1.5 1.2,1.3 1.3,1.8 1.4,1.6 1.5,2.1 1.6,1.9 1.7,2.4 1.8,2.2 1.9,2.6 2.0,2.4 2.1,2.8 2.2,2.7 2.3,3.1 2.4,2.9 2.5,3.3 2.6,3.1 2.7,3.5 2.8,3.4 2.9,3.7 3.0,3.5",
  "0,.9 .1,1.3 .2,1.1 .3,1.7 .4,2.1 .5,1.9 .6,2.6 .7,3.0 .8,3.5 .9,4.0 .95,4.6 1.0,4.3 1.1,5.4 1.2,5.3 1.3,5.6 1.4,5.4 1.5,5.9 1.6,6.1 1.7,6.5 1.75,6.6 1.8,6.0 1.9,6.2 2.0,5.8 2.1,5.9 2.2,5.5",
  "0,.4 .1,.8 .2,.6 .3,1.1 .4,.9 .5,1.4 .6,1.2 .7,1.8 .8,1.6 .9,2.2 1.0,2.5 1.1,2.3 1.2,2.9 1.3,3.2 1.4,3.0 1.5,3.6 1.6,4.0 1.7,3.8 1.8,4.5 1.9,4.9 2.0,5.3 2.05,5.9 2.1,5.6 2.15,6.3 2.2,6.6 2.3,6.8 2.4,7.0 2.5,6.8",
  "0,1.0 .1,.7 .2,1.2 .3,.9 .4,1.4 .5,1.2 .6,1.6 .7,1.4 .8,1.9 .9,1.7 1.0,2.1 1.1,1.9 1.2,2.4 1.3,2.2 1.4,2.6 1.5,2.4 1.6,2.8 1.7,2.6 1.8,3.0 1.9,2.8 2.0,3.0",
  "0,-.2 .05,-.6 .1,-.4 .15,-.8 .2,-.6 .25,-1.0 .3,-.8 .35,-1.1 .4,-1.0 .45,-1.3 .5,-1.1 .55,-1.4 .6,-1.55 .65,-1.2 .7,-1.3 .75,-.9 .8,-1.1 .85,-.7 .9,-.9 .95,-.5 1.0,-.7 1.05,-.3 1.1,-.5 1.15,-.1 1.2,-.3 1.25,.1 1.3,-.1 1.35,.3 1.4,.2 1.5,.5 1.6,.4 1.7,.9 1.8,.8 1.9,1.3 2.0,1.5",
  "0,-.8 .1,-.5 .2,-.9 .3,-.6 .4,-1.0 .5,-.7 .6,-.9 .7,-.5 .8,-.7 .9,-.2 1.0,-.4 1.1,.1 1.2,.0 1.3,.4 1.4,.3 1.5,.8 1.6,.7 1.7,1.2 1.8,1.1 1.9,1.5 2.0,1.4 2.1,1.8 2.2,1.7 2.3,2.1 2.4,2.0 2.5,2.4 2.6,2.3 2.7,2.6 2.8,2.5 2.9,2.8 3.0,2.7 3.1,3.0 3.2,2.9 3.3,3.0",
  "0,.3 .1,.6 .2,.4 .3,.8 .4,.6 .5,1.0 .6,.8 .7,1.2 .8,1.1 .9,1.4 1.0,1.5",
  "0,.1 .1,-.2 .2,.2 .3,0 .4,.4 .5,.2 .6,.6 .7,.5 .8,.9 .9,.8 1.0,1.2 1.1,1.1 1.2,1.5 1.3,1.4 1.4,1.8 1.5,1.7 1.6,2.1 1.7,2.0 1.8,2.4 1.9,2.3 2.0,2.7 2.2,2.9 2.4,3.2 2.6,3.1 2.8,3.5 3.0,3.4 3.2,3.8 3.4,3.7 3.6,4.1 3.8,4.3 3.9,4.7 4.0,4.6",
  "0,.5 .1,.9 .2,.7 .3,1.0 .4,.8 .5,1.2 .6,1.0 .7,1.3 .8,1.1 .9,1.5 1.0,1.3 1.1,1.6 1.2,1.4 1.3,1.8 1.4,1.6 1.5,2.0 1.6,1.8 1.7,2.2 1.8,2.0 1.9,2.4 2.0,2.2 2.2,2.6 2.4,2.5 2.6,2.9 2.8,2.7 3.0,3.1 3.2,3.0 3.35,3.6 3.5,3.3",
  "0,.7 .08,1.1 .16,.8 .24,1.4 .32,1.1 .4,1.7 .48,1.4 .56,2.0 .64,1.7 .72,2.3 .8,2.0 .88,2.7 .96,2.4 1.04,3.0 1.12,2.7 1.2,3.3 1.28,3.0 1.36,3.6 1.44,3.3 1.52,3.9 1.6,3.6 1.68,4.2 1.76,3.9 1.84,4.5 1.92,4.2 2.0,4.7 2.1,4.4 2.2,4.9 2.3,4.6 2.4,5.1 2.5,4.8 2.6,5.3 2.7,5.0",
  "0,.2 .1,-.3 .2,.1 .3,-.4 .4,0 .5,-.2 .6,.3 .7,.1 .8,.6 .9,.4 1.0,1.0 1.1,.8 1.2,1.4 1.3,1.2 1.4,1.8 1.5,1.6 1.6,2.2 1.7,2.0 1.8,2.6 1.9,2.4 2.0,3.0 2.1,2.8 2.2,3.4 2.3,3.2 2.4,3.8 2.5,3.6 2.6,4.2 2.7,4.0 2.8,4.5 2.9,4.3 3.0,4.8 3.1,4.6 3.2,5.1 3.3,4.9 3.4,5.3",
  "0,.9 .1,.5 .2,1.2 .3,.9 .4,1.6 .5,1.3 .6,2.0 .7,1.7 .8,2.4 .9,2.1 1.0,2.8 1.1,2.5 1.2,3.2 1.3,2.9 1.4,3.6 1.5,3.3 1.6,4.0 1.7,3.7 1.8,4.4 1.9,4.1 2.0,4.8 2.1,4.5 2.2,5.1 2.3,4.8 2.4,5.4 2.5,5.1 2.6,5.6 2.7,5.3 2.8,5.8 2.9,5.5 3.0,6.0",
  "0,-.4 .1,0 .2,-.3 .3,.2 .4,-.1 .5,.4 .6,.1 .7,.6 .8,.3 .9,.9 1.0,.6 1.1,1.1 1.2,.9 1.3,1.4 1.4,1.1 1.5,1.7 1.6,1.4 1.7,2.0 1.8,1.7 1.9,2.3 2.0,2.0 2.1,2.6 2.2,2.3 2.3,2.9 2.4,2.6 2.5,3.2 2.6,2.9 2.7,3.4 2.8,3.1 2.9,3.7 3.0,3.4 3.1,3.9 3.2,3.6 3.3,4.2 3.4,3.9 3.5,4.4 3.6,4.1 3.7,4.6 3.8,4.3 3.9,4.8 4.0,4.5 4.1,5.0 4.2,4.7 4.3,5.2 4.4,4.9",
  "0,.4 .08,.9 .16,.6 .24,1.2 .32,.9 .4,1.5 .48,1.2 .56,1.8 .64,1.5 .72,2.1 .8,1.8 .88,2.5 .96,2.2 1.04,2.8 1.12,2.5 1.2,3.1 1.28,2.8 1.36,3.4 1.44,3.1 1.52,3.7 1.6,3.4 1.7,4.0 1.8,3.7 1.9,4.3 2.0,4.0",
  "0,1.1 .1,.7 .2,1.3 .3,1.0 .4,1.5 .5,1.2 .6,1.8 .7,1.5 .8,2.1 .9,1.8 1.0,2.4 1.1,2.1 1.2,2.7 1.3,2.4 1.4,3.0 1.5,2.7 1.6,3.3 1.7,3.0 1.8,3.5 1.9,3.2 2.0,3.7 2.1,3.4 2.2,3.9 2.3,3.6 2.4,4.1 2.5,3.8 2.6,4.3 2.7,4.0 2.8,4.5 2.9,4.2 3.0,4.7 3.1,4.4 3.2,4.9 3.3,4.6 3.4,5.0 3.5,4.7 3.6,5.1 3.7,4.8",
  "0,-.6 .08,-.9 .16,-.5 .24,-.8 .32,-.4 .4,-.7 .48,-.3 .56,-.6 .64,-.2 .72,-.5 .8,0 .88,-.3 .96,.2 1.04,-.1 1.12,.4 1.2,.1 1.28,.6 1.36,.3 1.44,.9 1.52,.6 1.6,1.2 1.7,.9 1.8,1.5 1.9,1.2 2.0,1.8 2.1,1.5 2.2,2.1 2.3,1.8 2.4,2.4 2.5,2.1 2.6,2.6",
  "0,.5 .1,.1 .2,.6 .3,.3 .4,.9 .5,.6 .6,1.2 .7,.9 .8,1.5 .9,1.2 1.0,1.8 1.1,1.5 1.2,2.1 1.3,1.8 1.4,2.4 1.5,2.1 1.6,2.7 1.7,2.4 1.8,3.0 1.9,2.7 2.0,3.3 2.1,3.0 2.2,3.6 2.3,3.3 2.4,3.9 2.5,3.6 2.6,4.2 2.7,3.9 2.8,4.4 2.9,4.1 3.0,4.6 3.1,4.3 3.2,4.7 3.3,4.4 3.4,4.8 3.5,4.5 3.6,4.9 3.7,4.6 3.8,5.1 3.9,4.8 4.0,5.3 4.1,5.0 4.2,5.5 4.3,5.2 4.4,5.7 4.5,5.4 4.6,5.8 4.7,5.5 4.8,6.0",
];

// ---------- styling ----------
const FONT = "'Liberation Sans', Arial, Helvetica, sans-serif";
const COLOR_A = "#27377f";
const COLOR_B = "#e3232a";
const COLOR_C = "#1b843a";

function parseTrack(s: string): [number, number][] {
  return s
    .trim()
    .split(/\s+/)
    .map((p) => {
      const [a, b] = p.split(",").map(Number);
      return [a, b] as [number, number];
    });
}

type PanelProps = {
  left: number;
  top: number;
  width: number;
  height: number;
  yDomain: [number, number];
  tracks: string[];
  color: string;
};

function Panel({ left, top, width, height, yDomain, tracks, color }: PanelProps) {
  const x = d3.scaleLinear().domain([0, 12]).range([left, left + width]);
  const y = d3.scaleLinear().domain(yDomain).range([top + height, top]);
  const line = d3
    .line<[number, number]>()
    .x((d) => x(d[0]))
    .y((d) => y(d[1]));
  const bottom = top + height;
  const right = left + width;
  return (
    <g>
      <g fill="none" stroke={color} strokeWidth={2} strokeLinejoin="round">
        {tracks.map((t, i) => (
          <path key={i} d={line(parseTrack(t)) || ""} />
        ))}
      </g>
      <line x1={x(0)} x2={x(12)} y1={y(0)} y2={y(0)} stroke="#000" strokeWidth={2} strokeDasharray="11 8" />
      <rect x={left} y={top} width={width} height={height} fill="none" stroke="#000" strokeWidth={2} />
      <g stroke="#000" strokeWidth={2}>
        {yTicks.map((v) => (
          <g key={"y" + v}>
            <line x1={left} x2={left + 9} y1={y(v)} y2={y(v)} />
            <line x1={right} x2={right - 9} y1={y(v)} y2={y(v)} />
          </g>
        ))}
        {xTicks.map((v) => (
          <g key={"x" + v}>
            <line x1={x(v)} x2={x(v)} y1={bottom} y2={bottom - 7} />
            <line x1={x(v)} x2={x(v)} y1={top} y2={top + 7} />
          </g>
        ))}
        {xMinorTicks.map((v) => (
          <g key={"m" + v}>
            <line x1={x(v)} x2={x(v)} y1={bottom} y2={bottom - 4} />
            <line x1={x(v)} x2={x(v)} y1={top} y2={top + 4} />
          </g>
        ))}
      </g>
      <g fontFamily={FONT} fontSize={18} fill="#111">
        {yTicks.map((v, i) => (
          <text key={"yl" + v} x={left - 5} y={y(v)} dy="0.36em" textAnchor="end">
            {yTickLabels[i]}
          </text>
        ))}
        {xTicks.map((v) => (
          <text key={"xl" + v} x={x(v)} y={bottom + 23} textAnchor="middle">
            {v}
          </text>
        ))}
      </g>
    </g>
  );
}

export default function App() {
  return (
    <svg
      width={1215}
      height={897}
      viewBox="0 0 1215 897"
      style={{ position: "absolute", left: 0, top: 0, background: "#fff" }}
    >
      <rect x={0} y={0} width={1215} height={897} fill="#fff" />

      {/* Panel A */}
      <Panel left={131} top={63.5} width={444} height={324} yDomain={[-4.35, 10.21]} tracks={tracksA} color={COLOR_A} />
      {/* Panel B */}
      <Panel left={747.7} top={63.5} width={444} height={324} yDomain={[-4.35, 10.21]} tracks={tracksB} color={COLOR_B} />
      {/* Panel C */}
      <Panel left={436.7} top={514.5} width={444} height={322.5} yDomain={[-4.36, 10.13]} tracks={tracksC} color={COLOR_C} />

      <g fontFamily={FONT} fill="#111">
        {/* panel letters */}
        <text x={13} y={43.5} fontSize={42}>A</text>
        <text x={629} y={43.5} fontSize={42}>B</text>
        <text x={290} y={508.5} fontSize={42}>C</text>

        {/* titles */}
        <text x={350} y={48} fontSize={32} textAnchor="middle">Tracks with clear rotations</text>
        <text x={975} y={48} fontSize={32} textAnchor="middle">Unclear tracks</text>
        <text x={665} y={496} fontSize={32} textAnchor="middle">Tracks at limiting ATP</text>

        {/* y-axis labels */}
        <text transform="translate(77.7,223.5) rotate(-90)" fontSize={27} textAnchor="middle">Cumulative angle (radians)</text>
        <text transform="translate(692.9,223.5) rotate(-90)" fontSize={27} textAnchor="middle">Cumulative angle (radians)</text>
        <text transform="translate(381.7,675.5) rotate(-90)" fontSize={27} textAnchor="middle">Cumulative angle (radians)</text>

        {/* x-axis labels */}
        <text x={361} y={438} fontSize={27} textAnchor="middle">Distance (µm)</text>
        <text x={978} y={438} fontSize={27} textAnchor="middle">Distance (µm)</text>
        <text x={666} y={887} fontSize={27} textAnchor="middle">Distance (µm)</text>

        {/* condition labels */}
        <text x={145} y={94.5} fontSize={21}>1 mM ATP</text>
        <text x={768.5} y={95} fontSize={21}>1 mM ATP</text>
        <text x={454} y={543.5} fontSize={21}>10 µM ATP</text>

        {/* slope annotations */}
        <text x={255.7} y={365} fontSize={21.5} textLength={302} lengthAdjust="spacing">average slope = 130 ± 40 °/µm</text>
        <text x={873.1} y={138} fontSize={21.5} textLength={291} lengthAdjust="spacing">average slope = 30 ± 50 °/µm</text>
        <text x={546.6} y={815} fontSize={21.5} textLength={318} lengthAdjust="spacing">average slope = 300 ± 100 °/µm</text>

        {/* example track note */}
        <text x={758.2} y={576} fontSize={17} fontFamily="Lato, 'Open Sans', sans-serif" textLength={101} lengthAdjust="spacingAndGlyphs">Example track</text>
        <text x={766.4} y={596} fontSize={17} fontFamily="Lato, 'Open Sans', sans-serif" textLength={84} lengthAdjust="spacingAndGlyphs">in Figure S6</text>
      </g>

      {/* arrow */}
      <line x1={712} x2={740} y1={581.5} y2={581.5} stroke="#000" strokeWidth={2.2} />
      <polygon points="737.8,573.5 754.5,581.5 737.8,590" fill="#000" />
    </svg>
  );
}
